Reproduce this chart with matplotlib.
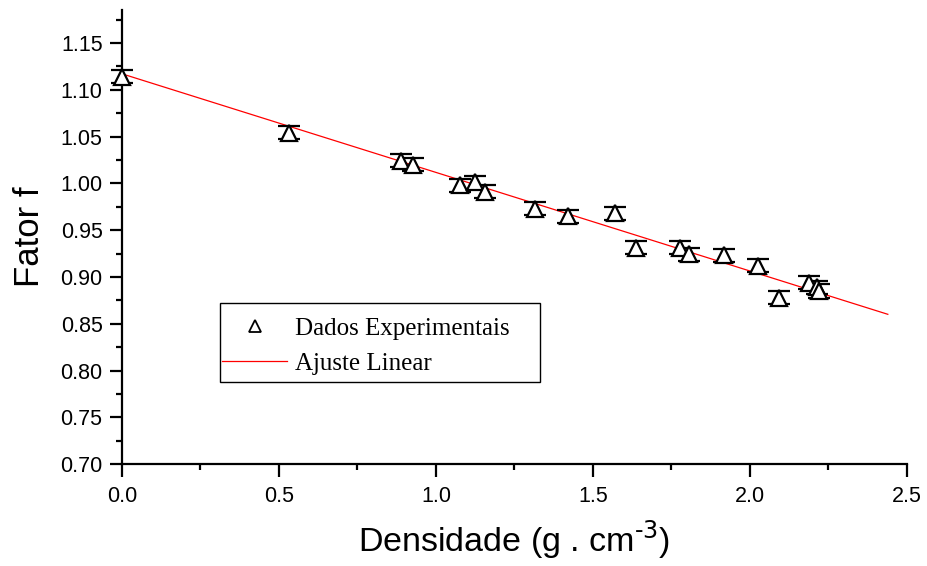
# Fator f x densidade, com ajuste linear

import numpy as np
import matplotlib.pyplot as plt
from matplotlib.ticker import MultipleLocator
from matplotlib.lines import Line2D
from matplotlib.patches import Rectangle

# -------------------------
# DADOS
# -------------------------
densidade = [0.0, 0.532, 0.889, 0.927, 1.076, 1.124, 1.156, 1.315, 1.42,
             1.570, 1.637, 1.777, 1.806, 1.917, 2.025, 2.092, 2.188,
             2.215, 2.222]
fator = [1.114, 1.054, 1.024, 1.020, 0.998, 1.001, 0.991, 0.973, 0.965,
         0.968, 0.931, 0.931, 0.924, 0.923, 0.912, 0.878, 0.894,
         0.889, 0.885]
erro = [0.007] * len(fator)

# parametros do ajuste linear (A + B*x)
A = 1.117
B = -0.1053
x_ajuste = [0.0, 2.44]

# -------------------------
# GRAFICO
# -------------------------
fig = plt.figure(figsize=(9.28, 5.66), dpi=100)
ax = fig.add_axes([0.1315, 0.18, 0.8455, 0.802])

xa = np.array(x_ajuste)
ax.plot(xa, A + B * xa, color="red", lw=0.9, zorder=2)

eb = ax.errorbar(densidade, fator, yerr=erro, fmt="^", ms=12, mfc="white",
                 mec="black", mew=1.6, ecolor="black", elinewidth=1.0,
                 capsize=8, capthick=1.2, zorder=3)
for art in eb.lines[0:1] + eb.lines[1] + eb.lines[2]:
    art.set_clip_on(False)

ax.set_xlim(0, 2.5)
ax.set_ylim(0.70, 1.185)
ax.xaxis.set_major_locator(MultipleLocator(0.5))
ax.xaxis.set_minor_locator(MultipleLocator(0.25))
ax.yaxis.set_major_locator(MultipleLocator(0.05))
ax.yaxis.set_minor_locator(MultipleLocator(0.025))
ax.xaxis.set_major_formatter(lambda v, p: f"{v:.1f}")
ax.yaxis.set_major_formatter(lambda v, p: f"{v:.2f}")

for lado in ["top", "right"]:
    ax.spines[lado].set_visible(False)
for lado in ["left", "bottom"]:
    ax.spines[lado].set_linewidth(1.6)

ax.tick_params(which="major", direction="out", length=9, width=1.6,
               labelsize=15.5)
ax.tick_params(axis="y", which="major", pad=5)
ax.tick_params(axis="x", which="major", pad=7)
ax.tick_params(which="minor", direction="out", length=4.5, width=1.6)
for t in ax.get_xticklabels() + ax.get_yticklabels():
    t.set_fontfamily("Liberation Sans")

ax.set_xlabel(r"Densidade (g . cm$^{\text{-3}}$)", fontsize=24.5,
              fontfamily="Liberation Sans", labelpad=8)
ax.set_ylabel("Fator f", fontsize=25, fontfamily="Liberation Sans",
              labelpad=10)

# legenda
h_dados = Line2D([], [], marker="^", ls="none", ms=8, mfc="white",
                 mec="black", mew=1.3)
h_ajuste = Line2D([], [], color="red", lw=0.9)
leg = ax.legend([h_dados, h_ajuste], ["Dados Experimentais", "Ajuste Linear"],
                loc="lower left", bbox_to_anchor=(0.128, 0.196),
                frameon=False, prop={"family": "Liberation Serif", "size": 18},
                handlelength=2.6, handletextpad=0.3, borderpad=0.0,
                borderaxespad=0, labelspacing=0.5)
ax.add_patch(Rectangle((0.125, 0.181), 0.408, 0.174, transform=ax.transAxes,
                       fill=False, edgecolor="black", lw=1.0, zorder=4))

fig.savefig("out.png", dpi=100)
